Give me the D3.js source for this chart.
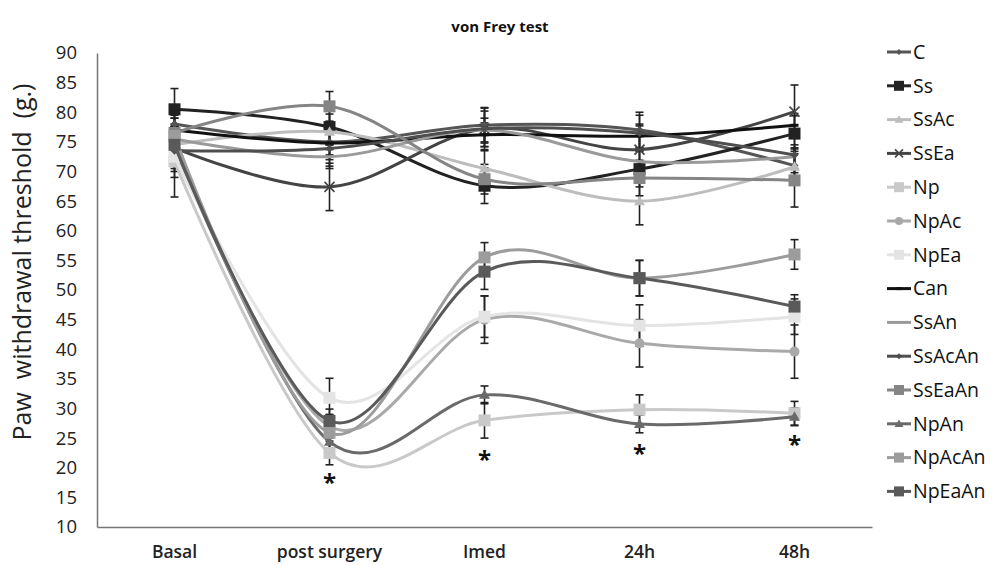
<!DOCTYPE html>
<html><head><meta charset="utf-8">
<script src="https://cdn.jsdelivr.net/npm/d3@7"></script>
<style>body{margin:0;background:#fff}svg{display:block}text{font-family:"Open Sans",sans-serif}</style>
</head><body><svg id="c" width="995" height="565"></svg>
<script>
const categories = ["Basal","post surgery","Imed","24h","48h"];
const yTicks = [10,15,20,25,30,35,40,45,50,55,60,65,70,75,80,85,90];
const seriesNames = ["C","Ss","SsAc","SsEa","Np","NpAc","NpEa","Can","SsAn","SsAcAn","SsEaAn","NpAn","NpAcAn","NpEaAn"];
const vC      = [78, 75, 77.8, 77, 71];
const vSs     = [80.5, 77.5, 67.6, 70.4, 76.4];
const vSsAc   = [74.5, 76.7, 70.5, 65, 70.8];
const vSsEa   = [74, 67.4, 77.2, 73.7, 80.1];
const vNp     = [71.7, 22.5, 28, 29.8, 29.2];
const vNpAc   = [74, 27, 45, 41, 39.6];
const vNpEa   = [72.5, 31.8, 45.5, 44, 45.5];
const vCan    = [77, 74.8, 76.2, 76, 77.8];
const vSsAn   = [75.5, 72.5, 77, 71.7, 72.5];
const vSsAcAn = [73.5, 73.9, 77.2, 76.5, 72.8];
const vSsEaAn = [76.5, 81, 68.7, 68.9, 68.5];
const vNpAn   = [74.5, 24.4, 32.3, 27.4, 28.6];
const vNpAcAn = [76, 25.9, 55.5, 52, 56];
const vNpEaAn = [74.5, 27.9, 53.1, 52, 47.2];
const eC      = [3,3,3,3,3];
const eSs     = [3.5,3,3,3,3];
const eSsAc   = [3,3,3,4,3];
const eSsEa   = [4,4,3.5,4,4.5];
const eNp     = [6,2,3,2.5,2];
const eNpAc   = [3,2,4,4,4.5];
const eNpEa   = [3.5,3.3,3.5,3.5,3];
const eCan    = [2,2,2,2,2];
const eSsAn   = [2,2,2,2,2];
const eSsAcAn = [3,3,3,3,3];
const eSsEaAn = [3,2.5,2.5,3,4.5];
const eNpAn   = [3,2,1.5,1.5,1.5];
const eNpAcAn = [3,3,2.5,3,2.5];
const eNpEaAn = [3,2,3,3,2];
const starCats = ["post surgery","Imed","24h","48h"];
const starVals = [16, 20, 21, 22.5];

const values = [vC,vSs,vSsAc,vSsEa,vNp,vNpAc,vNpEa,vCan,vSsAn,vSsAcAn,vSsEaAn,vNpAn,vNpAcAn,vNpEaAn];
const errors = [eC,eSs,eSsAc,eSsEa,eNp,eNpAc,eNpEa,eCan,eSsAn,eSsAcAn,eSsEaAn,eNpAn,eNpAcAn,eNpEaAn];
const colors = ["#555","#222","#bdbdbd","#444","#c9c9c9","#a9a9a9","#e4e4e4","#111","#9a9a9a","#4e4e4e","#858585","#6a6a6a","#9c9c9c","#5a5a5a"];
const markers = ["diamond","square","triangle","x","square","circle","square","dash","none","diamond","square","triangle","square","square"];

const svg = d3.select("#c");
const L=97, R=872, T=53, B=527;
const x = d3.scaleBand().domain(categories).range([L,R]);
const y = d3.scaleLinear().domain([10,90]).range([B,T]);
const cx = c => x(c)+x.bandwidth()/2;

svg.append("text").attr("x",500).attr("y",32).attr("text-anchor","middle")
  .attr("font-size",15).attr("font-weight",700).attr("fill","#111").text("von Frey test");

// axes
const ya = svg.append("g").attr("transform",`translate(${L},0)`)
  .call(d3.axisLeft(y).tickValues(yTicks).tickSize(0).tickPadding(20));
ya.select(".domain").attr("stroke","#777").attr("stroke-width",1.5);
ya.selectAll("text").attr("font-size",18.5).attr("fill","#222").style("font-family","'Open Sans',sans-serif");
const xa = svg.append("g").attr("transform",`translate(0,${B})`)
  .call(d3.axisBottom(x).tickSize(0).tickPadding(19));
xa.select(".domain").attr("stroke","#777").attr("stroke-width",1.5);
xa.selectAll("text").attr("font-size",17.5).attr("font-weight",600).attr("fill","#222").style("font-family","'Open Sans',sans-serif");

svg.append("text").attr("transform","translate(31,262) rotate(-90)").attr("text-anchor","middle")
  .attr("font-size",25).attr("fill","#222").style("white-space","pre").text("Paw  withdrawal threshold  (g.)");

const line = d3.line().x((d,i)=>cx(categories[i])).y(d=>y(d)).curve(d3.curveCardinal.tension(0));

function marker(g, type, col, px, py, s){
  if(type==="square") g.append("rect").attr("x",px-s).attr("y",py-s).attr("width",2*s).attr("height",2*s).attr("fill",col);
  else if(type==="diamond") g.append("path").attr("d",`M${px},${py-s}L${px+s},${py}L${px},${py+s}L${px-s},${py}Z`).attr("fill",col);
  else if(type==="triangle") g.append("path").attr("d",`M${px},${py-s*1.1}L${px+s*1.1},${py+s*0.8}L${px-s*1.1},${py+s*0.8}Z`).attr("fill",col);
  else if(type==="circle") g.append("circle").attr("cx",px).attr("cy",py).attr("r",s).attr("fill",col);
  else if(type==="x") g.append("path").attr("d",`M${px-s},${py-s}L${px+s},${py+s}M${px-s},${py+s}L${px+s},${py-s}`).attr("stroke",col).attr("stroke-width",1.6);
  else if(type==="dash") g.append("rect").attr("x",px-s).attr("y",py-1.5).attr("width",2*s).attr("height",3).attr("fill",col);
}
const msize = {square:6,diamond:4,triangle:5,circle:5,x:5,dash:4,none:0};

const plot = svg.append("g");
// error bars
values.forEach((vals,si)=>{
  vals.forEach((v,i)=>{
    const px = cx(categories[i]), e = errors[si][i];
    const g = plot.append("g").attr("stroke","#222").attr("stroke-width",1.6);
    g.append("line").attr("x1",px).attr("x2",px).attr("y1",y(v+e)).attr("y2",y(v-e));
    g.append("line").attr("x1",px-4).attr("x2",px+4).attr("y1",y(v+e)).attr("y2",y(v+e));
    g.append("line").attr("x1",px-4).attr("x2",px+4).attr("y1",y(v-e)).attr("y2",y(v-e));
  });
});
values.forEach((vals,si)=>{
  plot.append("path").datum(vals).attr("d",line).attr("fill","none")
    .attr("stroke",colors[si]).attr("stroke-width",3);
  vals.forEach((v,i)=>marker(plot, markers[si], colors[si], cx(categories[i]), y(v), msize[markers[si]]));
});

// asterisks
starCats.forEach((c,i)=>{
  svg.append("text").attr("x",cx(c)).attr("y",y(starVals[i])).attr("text-anchor","middle")
    .attr("font-size",24).attr("font-weight",700).attr("fill","#111").text("*");
});

// legend
const lg = svg.append("g");
seriesNames.forEach((n,i)=>{
  const ly = 52 + i*33.8;
  lg.append("line").attr("x1",887).attr("x2",911).attr("y1",ly).attr("y2",ly).attr("stroke",colors[i]).attr("stroke-width",3);
  marker(lg, markers[i], colors[i], 899, ly, Math.max(0,msize[markers[i]]-1));
  lg.append("text").attr("x",913).attr("y",ly).attr("dy","0.35em").attr("font-size",19.5).attr("fill","#111").text(n);
});
</script></body></html>
